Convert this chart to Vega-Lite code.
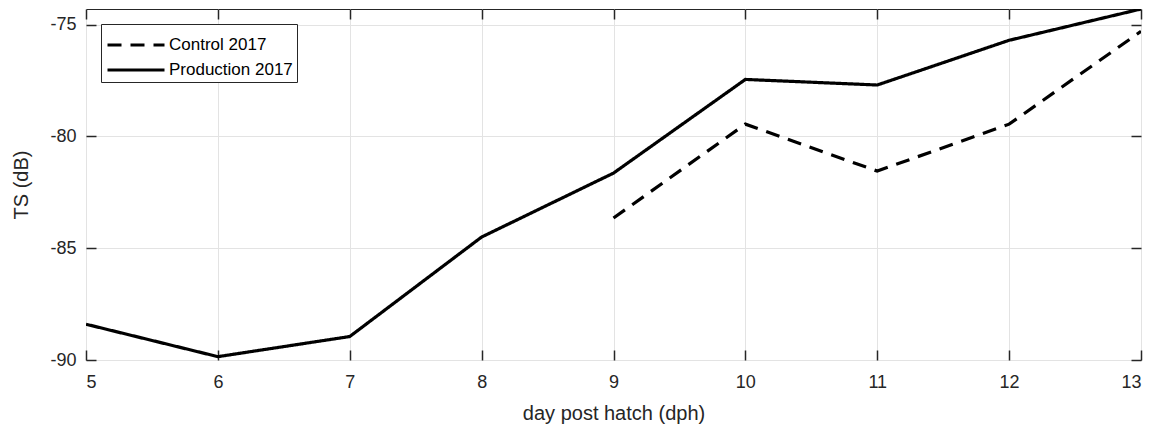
{
  "$schema": "https://vega.github.io/schema/vega-lite/v6.json",
  "width": 1055,
  "height": 351,
  "autosize": {"type": "none"},
  "padding": {"left": 86, "top": 9, "right": 12, "bottom": 69},
  "background": "white",
  "config": {
    "view": {"stroke": "#262626", "strokeWidth": 1},
    "font": "Liberation Sans",
    "axis": {
      "labelFont": "Liberation Sans",
      "titleFont": "Liberation Sans",
      "labelFontSize": 18,
      "titleFontSize": 20,
      "titleFontWeight": "normal",
      "labelColor": "#262626",
      "titleColor": "#262626",
      "domain": false,
      "ticks": true,
      "tickColor": "#262626",
      "tickWidth": 1.5,
      "gridColor": "#e3e3e3",
      "gridWidth": 1
    }
  },
  "data": {
    "values": [
      {"dph": 5, "ts": -88.4, "series": "Production 2017"},
      {"dph": 6, "ts": -89.85, "series": "Production 2017"},
      {"dph": 7, "ts": -88.95, "series": "Production 2017"},
      {"dph": 8, "ts": -84.5, "series": "Production 2017"},
      {"dph": 9, "ts": -81.64, "series": "Production 2017"},
      {"dph": 10, "ts": -77.45, "series": "Production 2017"},
      {"dph": 11, "ts": -77.7, "series": "Production 2017"},
      {"dph": 12, "ts": -75.7, "series": "Production 2017"},
      {"dph": 13, "ts": -74.3, "series": "Production 2017"},
      {"dph": 9, "ts": -83.65, "series": "Control 2017"},
      {"dph": 10, "ts": -79.45, "series": "Control 2017"},
      {"dph": 11, "ts": -81.55, "series": "Control 2017"},
      {"dph": 12, "ts": -79.45, "series": "Control 2017"},
      {"dph": 13, "ts": -75.3, "series": "Control 2017"}
    ]
  },
  "layer": [
    {
      "mark": {"type": "line", "color": "black", "strokeWidth": 3.2, "clip": true},
      "encoding": {
        "x": {
          "field": "dph", "type": "quantitative",
          "scale": {"domain": [5, 13], "nice": false, "zero": false},
          "axis": {"orient": "bottom", "title": "day post hatch (dph)", "values": [5,6,7,8,9,10,11,12,13], "labelExpr": "toString(datum.value)", "offset": -10, "tickSize": 10, "labelPadding": 13, "titlePadding": 12, "grid": true}
        },
        "y": {
          "field": "ts", "type": "quantitative",
          "scale": {"domain": [-90, -74.3], "nice": false, "zero": false},
          "axis": {"orient": "left", "title": "TS (dB)", "values": [-90,-85,-80,-75], "labelExpr": "toString(datum.value)", "offset": -10, "tickSize": 10, "labelPadding": 10, "titlePadding": 18, "grid": true}
        },
        "strokeDash": {
          "field": "series", "type": "nominal",
          "scale": {"domain": ["Control 2017", "Production 2017"], "range": [[14, 9], [1, 0]]},
          "legend": {
            "title": null,
            "orient": "top-left",
            "offset": 15,
            "symbolType": "M-1.9,0L1.9,0",
            "symbolSize": 900,
            "symbolOffset": 14,
            "symbolStrokeWidth": 3.2,
            "symbolStrokeColor": "black",
            "labelFont": "Liberation Sans",
            "labelFontSize": 17,
            "labelColor": "black",
            "strokeColor": "#262626",
            "fillColor": "white",
            "padding": 4,
            "rowPadding": -4,
            "labelOffset": 16
          }
        }
      }
    },
    {
      "mark": {"type": "line", "strokeOpacity": 0},
      "encoding": {
        "x": {
          "field": "dph", "type": "quantitative",
          "scale": {"domain": [5, 13], "nice": false, "zero": false},
          "axis": {"orient": "top", "title": null, "values": [5,6,7,8,9,10,11,12,13], "labels": false, "offset": -10, "tickSize": 10, "grid": false}
        },
        "y": {
          "field": "ts", "type": "quantitative",
          "scale": {"domain": [-90, -74.3], "nice": false, "zero": false},
          "axis": {"orient": "right", "title": null, "values": [-90,-85,-80,-75], "labels": false, "offset": -10, "tickSize": 10, "grid": false}
        },
        "detail": {"field": "series", "type": "nominal"}
      }
    }
  ],
  "resolve": {"axis": {"x": "independent", "y": "independent"}}
}
